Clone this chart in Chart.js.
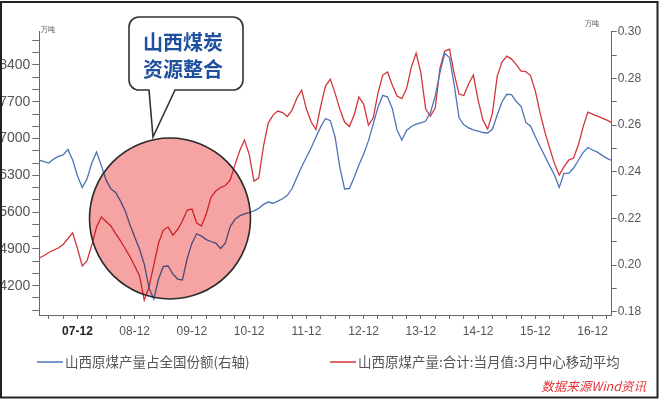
<!DOCTYPE html>
<html><head><meta charset="utf-8">
<script src="https://cdn.jsdelivr.net/npm/chart.js@4.4.0/dist/chart.umd.min.js"></script>
<style>html,body{margin:0;padding:0;background:#fff;}#wrap{width:660px;height:402px;position:relative;}</style>
</head><body><div id="wrap"><canvas id="c" width="660" height="402"></canvas></div>
<script>
// ---- data ----
const months = [
'07-04','07-05','07-06','07-07','07-08','07-09','07-10','07-11','07-12',
'08-01','08-02','08-03','08-04','08-05','08-06','08-07','08-08','08-09','08-10','08-11','08-12',
'09-01','09-02','09-03','09-04','09-05','09-06','09-07','09-08','09-09','09-10','09-11','09-12',
'10-01','10-02','10-03','10-04','10-05','10-06','10-07','10-08','10-09','10-10','10-11','10-12',
'11-01','11-02','11-03','11-04','11-05','11-06','11-07','11-08','11-09','11-10','11-11','11-12',
'12-01','12-02','12-03','12-04','12-05','12-06','12-07','12-08','12-09','12-10','12-11','12-12',
'13-01','13-02','13-03','13-04','13-05','13-06','13-07','13-08','13-09','13-10','13-11','13-12',
'14-01','14-02','14-03','14-04','14-05','14-06','14-07','14-08','14-09','14-10','14-11','14-12',
'15-01','15-02','15-03','15-04','15-05','15-06','15-07','15-08','15-09','15-10','15-11','15-12',
'16-01','16-02','16-03','16-04','16-05','16-06','16-07','16-08','16-09','16-10','16-11','16-12',
'17-01','17-02','17-03','17-04'];

// 山西原煤产量占全国份额 (right axis)
const shareValues = [
0.2450,0.2443,0.2437,0.2454,0.2466,0.2472,0.2495,0.2450,0.2383,
0.2332,0.2369,0.2437,0.2484,0.2427,0.2364,0.2327,0.2311,0.2275,0.2233,0.2173,0.2120,
0.2069,0.2004,0.1902,0.1854,0.1940,0.1994,0.1996,0.1962,0.1940,0.1936,0.2027,0.2094,
0.2134,0.2124,0.2109,0.2101,0.2094,0.2071,0.2094,0.2164,0.2195,0.2211,0.2219,0.2225,
0.2232,0.2243,0.2260,0.2270,0.2265,0.2274,0.2284,0.2299,0.2328,0.2375,0.2421,0.2462,
0.2503,0.2549,0.2592,0.2628,0.2619,0.2550,0.2420,0.2326,0.2328,0.2375,0.2429,0.2476,
0.2532,0.2604,0.2676,0.2727,0.2720,0.2671,0.2579,0.2536,0.2577,0.2594,0.2604,0.2609,
0.2617,0.2653,0.2724,0.2826,0.2907,0.2889,0.2770,0.2631,0.2601,0.2588,0.2579,0.2574,
0.2568,0.2566,0.2583,0.2643,0.2699,0.2732,0.2730,0.2701,0.2680,0.2611,0.2595,0.2550,
0.2507,0.2466,0.2425,0.2386,0.2333,0.2393,0.2393,0.2416,0.2448,0.2482,0.2504,0.2493,
0.2484,0.2470,0.2457,0.2448];

// 山西原煤产量:合计:当月值:3月中心移动平均 (left axis, 万吨)
const outputValues = [
4727,4774,4833,4879,4917,4984,5098,5206,4909,
4575,4670,4974,5316,5507,5421,5336,5193,5058,4908,4755,4575,
4390,3928,4175,4594,5012,5259,5316,5164,5269,5431,5640,5659,
5393,5336,5564,5887,6001,6068,6106,6210,6495,6762,6971,6705,
6191,6248,6857,7295,7447,7523,7494,7418,7542,7770,7922,7561,
7314,7171,7618,7998,8131,7865,7561,7314,7228,7447,7789,7656,
7257,7390,7865,8208,8265,8018,7808,7761,7951,8360,8626,8246,
7561,7428,7580,8341,8664,8702,8227,7846,7818,8037,8208,7732,
7352,7180,7485,8189,8455,8569,8512,8407,8284,8274,8194,7903,
7485,7123,6819,6524,6306,6467,6591,6629,6876,7218,7504,7466,
7428,7390,7352,7304];

const leftTickLabels = [4200,4900,5600,6300,7000,7700,8400];
const rightTickLabels = [0.18,0.20,0.22,0.24,0.26,0.28,0.30];
const seriesNames = ['山西原煤产量占全国份额(右轴)','山西原煤产量:合计:当月值:3月中心移动平均'];
const unitText = '万吨';
const calloutLines = ['山西煤炭','资源整合'];
const sourceText = '数据来源Wind资讯';

const BLUE = '#4d74b8', RED = '#d2363d', AX = '#6a6a6a';
const CJK = '"Noto Sans CJK SC", sans-serif';
const LAT = '"Liberation Sans", Arial, sans-serif';

const deco = {
  id: 'deco',
  beforeDraw(chart) {
    const c = chart.ctx; c.save(); c.fillStyle = '#fff'; c.fillRect(0, 0, chart.width, chart.height); c.restore();
  },
  afterDatasetsDraw(chart) {
    const c = chart.ctx; c.save();
    c.beginPath(); c.arc(170, 218.5, 80.5, 0, Math.PI * 2);
    c.globalCompositeOperation = 'multiply'; c.fillStyle = '#f6a3a3'; c.fill();
    c.globalCompositeOperation = 'source-over'; c.lineWidth = 1.6; c.strokeStyle = '#2a2a2a'; c.stroke();
    c.restore();
  },
  afterDraw(chart) {
    const c = chart.ctx; c.save();
    // callout
    const x0 = 129, y0 = 17, x1 = 243, y1 = 90, r = 10;
    c.beginPath();
    c.moveTo(x0 + r, y0); c.lineTo(x1 - r, y0); c.arcTo(x1, y0, x1, y0 + r, r);
    c.lineTo(x1, y1 - r); c.arcTo(x1, y1, x1 - r, y1, r);
    c.lineTo(175, y1); c.lineTo(153, 137); c.lineTo(149, y1);
    c.lineTo(x0 + r, y1); c.arcTo(x0, y1, x0, y1 - r, r);
    c.lineTo(x0, y0 + r); c.arcTo(x0, y0, x0 + r, y0, r);
    c.closePath();
    c.fillStyle = '#fff'; c.fill(); c.lineWidth = 1.6; c.strokeStyle = '#333'; c.stroke();
    c.fillStyle = '#1f4f9f'; c.font = 'bold 20px ' + CJK; c.textAlign = 'center'; c.textBaseline = 'middle';
    c.fillText(calloutLines[0], 183, 42); c.fillText(calloutLines[1], 183, 69);
    // units
    c.fillStyle = '#555'; c.font = '7px ' + CJK; c.textAlign = 'left';
    c.fillText(unitText, 41, 29); c.fillText(unitText, 585, 23);
    // legend
    c.lineWidth = 1.5;
    c.strokeStyle = BLUE; c.beginPath(); c.moveTo(37, 362); c.lineTo(63, 362); c.stroke();
    c.strokeStyle = RED; c.beginPath(); c.moveTo(330, 362); c.lineTo(356, 362); c.stroke();
    c.fillStyle = '#555'; c.font = '13.5px ' + CJK; c.textBaseline = 'middle';
    c.fillText(seriesNames[0], 65, 362); c.fillText(seriesNames[1], 358, 362);
    // source
    c.fillStyle = '#e2363b'; c.font = 'italic 12.5px ' + CJK; c.textAlign = 'right';
    c.fillText(sourceText, 646, 386);
    // frame
    c.strokeStyle = '#222'; c.lineWidth = 2; c.strokeRect(1, 2, 656.5, 395.5);
    c.restore();
  }
};

function near(v, arr, tol) { return arr.some(a => Math.abs(a - v) < tol); }

new Chart(document.getElementById('c'), {
  type: 'line',
  data: {
    labels: months,
    datasets: [
      { label: seriesNames[0], data: shareValues, yAxisID: 'y1', borderColor: BLUE, borderWidth: 1.3, pointRadius: 0, tension: 0 },
      { label: seriesNames[1], data: outputValues, yAxisID: 'y', borderColor: RED, borderWidth: 1.3, pointRadius: 0, tension: 0 }
    ]
  },
  options: {
    responsive: false, animation: false, devicePixelRatio: 1,
    layout: { padding: { top: 31.7, left: 0, right: 0, bottom: 0 } },
    plugins: { legend: { display: false }, tooltip: { enabled: false } },
    scales: {
      x: {
        type: 'category', offset: false,
        grid: { drawOnChartArea: false, drawTicks: true, tickLength: 4,
          tickColor: ctx => { const m = months[ctx.index]; return (m && ['03','06','09','12'].includes(m.slice(3))) ? AX : 'rgba(0,0,0,0)'; } },
        border: { display: true, color: AX, width: 1 },
        ticks: {
          autoSkip: false, maxRotation: 0, minRotation: 0, padding: 5,
          callback: function (v, i) { const m = months[i]; return m.slice(3) === '12' ? m : ''; },
          color: ctx => ctx.index === 8 ? '#222' : '#555',
          font: ctx => ({ family: LAT, size: 12, weight: ctx.index === 8 ? 'bold' : 'normal' })
        },
        afterFit: s => { s.height = 87; }
      },
      y: {
        position: 'left', min: 3643, max: 9033,
        grid: { drawOnChartArea: false, drawTicks: true, tickLength: 7, tickColor: AX },
        border: { display: true, color: AX, width: 1 },
        afterBuildTicks: s => {
          const t = []; const st = (leftTickLabels[1] - leftTickLabels[0]) / 3;
          for (let v = leftTickLabels[0] - 2 * st; v <= s.max + 0.01; v += st) if (v >= s.min) t.push({ value: v });
          s.ticks = t;
        },
        ticks: { autoSkip: false, padding: 2, color: '#555', font: { family: LAT, size: 14 },
          callback: v => near(v, leftTickLabels, 1) ? String(Math.round(v)) : '' },
        afterFit: s => { s.width = 39.3; }
      },
      y1: {
        position: 'right', min: 0.1786, max: 0.3,
        grid: { drawOnChartArea: false, drawTicks: true, tickLength: 5, tickColor: AX },
        border: { display: true, color: AX, width: 1 },
        afterBuildTicks: s => {
          const t = [];
          for (let i = 0; i < rightTickLabels.length; i++) {
            t.push({ value: rightTickLabels[i] });
            if (i < rightTickLabels.length - 1) t.push({ value: (rightTickLabels[i] + rightTickLabels[i + 1]) / 2 });
          }
          s.ticks = t;
        },
        ticks: { autoSkip: false, padding: 1, color: '#555', font: { family: LAT, size: 12 },
          callback: v => near(v, rightTickLabels, 1e-5) ? v.toFixed(2) : '' },
        afterFit: s => { s.width = 48.3; }
      }
    }
  },
  plugins: [deco]
});
</script></body></html>
